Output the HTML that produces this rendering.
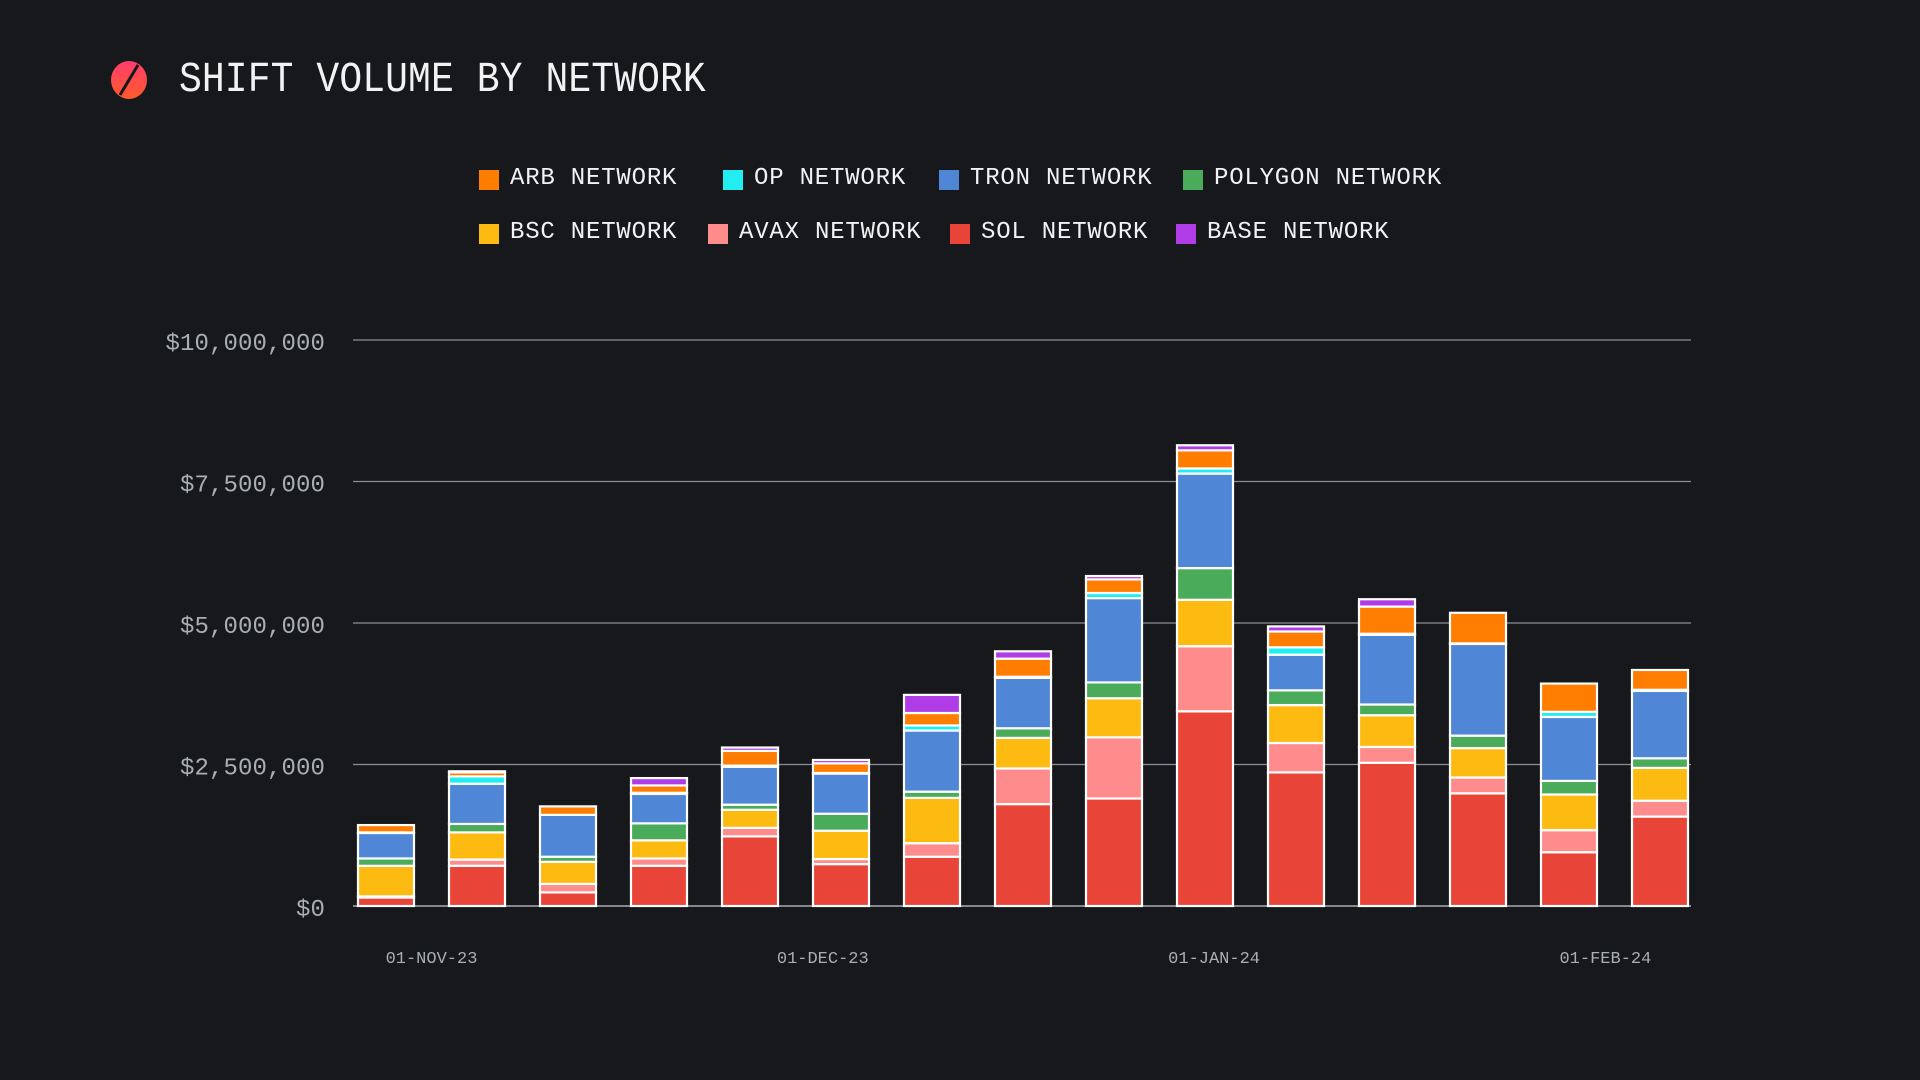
<!DOCTYPE html>
<html><head><meta charset="utf-8"><style>
html,body{margin:0;padding:0;background:#17181c;}
body{width:1920px;height:1080px;position:relative;overflow:hidden;font-family:"Liberation Mono","DejaVu Sans Mono",monospace;}
#title{position:absolute;left:179px;top:59px;font-size:38px;color:#f2f2f2;letter-spacing:0.1px;white-space:nowrap;transform:scaleY(1.12);transform-origin:left center;}
.leg{position:absolute;font-size:24px;color:#f2f2f2;white-space:nowrap;letter-spacing:0.8px;}
.leg span.sq{position:absolute;left:0;top:4px;width:20px;height:20px;}
.leg span.tx{position:absolute;left:31px;top:-1px;}
</style></head><body>
<svg style="position:absolute;left:109px;top:60px" width="40" height="40" viewBox="0 0 40 40">
<defs><linearGradient id="lg" x1="0" y1="0" x2="0" y2="1"><stop offset="0" stop-color="#ff3d6e"/><stop offset="1" stop-color="#ff5a2a"/></linearGradient></defs>
<ellipse cx="20" cy="20" rx="18" ry="19" fill="url(#lg)"/>
<line x1="29" y1="5" x2="11" y2="35" stroke="#17181c" stroke-width="3"/>
</svg>
<div id="title">SHIFT VOLUME BY NETWORK</div>
<div id="legend"></div>
<svg id="chart" width="1920" height="1080" style="position:absolute;left:0;top:0"></svg>
<script>
const categories=["W1","W2","W3","W4","W5","W6","W7","W8","W9","W10","W11","W12","W13","W14","W15"];
const seriesNames=["SOL NETWORK","AVAX NETWORK","BSC NETWORK","POLYGON NETWORK","TRON NETWORK","OP NETWORK","ARB NETWORK","BASE NETWORK"];
const seriesColors=["#e84438","#ff8c8c","#fdbb11","#4aab5a","#4f86d6","#22eef2","#ff7d00","#b03ce8"];
const sol  =[0.15,0.71,0.24,0.71,1.23,0.74,0.87,1.80,1.90,3.44,2.36,2.53,1.99,0.95,1.58];
const avax =[0.02,0.11,0.15,0.13,0.15,0.09,0.24,0.63,1.08,1.15,0.52,0.28,0.28,0.39,0.28];
const bsc  =[0.54,0.48,0.39,0.32,0.32,0.50,0.80,0.54,0.69,0.82,0.67,0.56,0.52,0.63,0.58];
const poly =[0.13,0.15,0.09,0.30,0.09,0.30,0.11,0.17,0.28,0.56,0.26,0.19,0.22,0.24,0.17];
const tron =[0.45,0.71,0.74,0.52,0.67,0.71,1.08,0.89,1.49,1.67,0.63,1.23,1.62,1.13,1.19];
const op   =[0.01,0.13,0.0,0.02,0.02,0.01,0.09,0.02,0.09,0.09,0.13,0.02,0.01,0.09,0.02];
const arb  =[0.13,0.07,0.15,0.13,0.26,0.17,0.22,0.32,0.24,0.32,0.28,0.48,0.54,0.50,0.35];
const base =[0.0,0.02,0.0,0.13,0.06,0.06,0.32,0.13,0.06,0.09,0.09,0.13,0.0,0.0,0.0];
const yTicks=[0,2.5,5,7.5,10];
const yTickLabels=["$0","$2,500,000","$5,000,000","$7,500,000","$10,000,000"];
const xTickIdx=[0.5,4.8,9.1,13.4];
const xTickLabels=["01-NOV-23","01-DEC-23","01-JAN-24","01-FEB-24"];
const legendOrder=[6,5,4,3,2,1,0,7];

const series=[sol,avax,bsc,poly,tron,op,arb,base];
const NS="http://www.w3.org/2000/svg";
const svg=document.getElementById('chart');
const y0=906,y10=340,xL=353,xR=1691;
function yS(v){return y0-(v/10)*(y0-y10);}
function xS(i){return 386+i*91;}
const bw=56;
function mk(t,a){const e=document.createElementNS(NS,t);for(const k in a)e.setAttribute(k,a[k]);svg.appendChild(e);return e;}
yTicks.forEach((t,i)=>{
  const l=mk('line',{x1:xL,x2:xR,y1:yS(t),y2:yS(t),stroke:i==0?'#c8ccd2':'#8a8e96','stroke-width':1.3});
  
  
  const tx=mk('text',{x:325,y:yS(t)+10,'text-anchor':'end',fill:'#a9adb4','font-size':24,'font-family':'Liberation Mono, monospace','letter-spacing':'0.1'});
  tx.textContent=yTickLabels[i];
  
  
});
xTickIdx.forEach((p,i)=>{
  const tx=mk('text',{x:xS(p),y:963,'text-anchor':'middle',fill:'#a9adb4','font-size':17,'font-family':'Liberation Mono, monospace'});
  tx.textContent=xTickLabels[i];
  
  
});
categories.forEach((c,i)=>{
  let acc=0;
  series.forEach((s,k)=>{
    const v=s[i]; if(v<=0) return;
    const yt=yS(acc+v), yb=yS(acc);
    const r=mk('rect',{x:xS(i)-bw/2,y:yt,width:bw,height:Math.max(yb-yt,0.5),fill:seriesColors[k],stroke:'#ffffff','stroke-width':2.2});
    
    
    acc+=v;
  });
});
const leg=document.getElementById('legend');
const legPos=[[479,166],[723,166],[939,166],[1183,166],[479,220],[708,220],[950,220],[1176,220]];
legendOrder.forEach((k,j)=>{
  const d=document.createElement('div');
  d.className='leg';
  d.style.left=legPos[j][0]+'px';d.style.top=legPos[j][1]+'px';
  d.innerHTML='<span class="sq" style="background:'+seriesColors[k]+'"></span><span class="tx">'+seriesNames[k]+'</span>';
  
  
  leg.appendChild(d);
});
</script>
</body></html>
